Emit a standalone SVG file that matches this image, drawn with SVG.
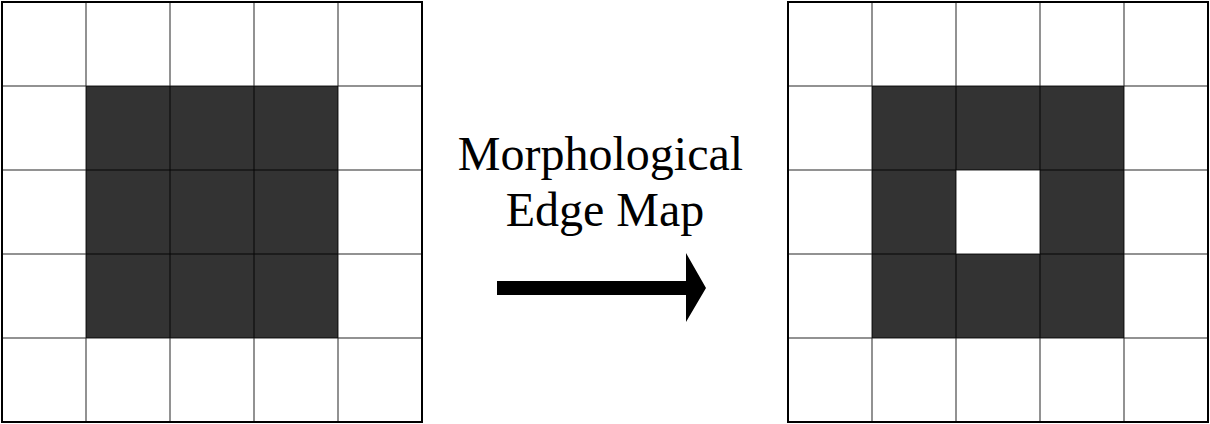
<svg xmlns="http://www.w3.org/2000/svg" width="1210" height="424" viewBox="0 0 1210 424">
<style>
.w{fill:#fff}
.d{fill:#333}
.border{fill:none;stroke:#000;stroke-width:2}
.grid{stroke:#000;stroke-width:1;opacity:0.85}
.lbl{font-family:"Liberation Serif","Times New Roman",serif;font-size:48px;fill:#000;text-anchor:middle}
</style>
<rect width="1210" height="424" fill="#fff"/>
<g id="input-grid">
<rect x="2" y="2" width="420" height="420" class="w"/>
<rect x="86" y="86" width="252" height="252" class="d"/>
<g class="grid">
<line x1="86" y1="2" x2="86" y2="422"/><line x1="170" y1="2" x2="170" y2="422"/><line x1="254" y1="2" x2="254" y2="422"/><line x1="338" y1="2" x2="338" y2="422"/>
<line x1="2" y1="86" x2="422" y2="86"/><line x1="2" y1="170" x2="422" y2="170"/><line x1="2" y1="254" x2="422" y2="254"/><line x1="2" y1="338" x2="422" y2="338"/>
</g>
<rect x="2" y="2" width="420" height="420" class="border"/>
</g>
<g id="output-grid">
<rect x="788" y="2" width="420" height="420" class="w"/>
<path d="M872 86H1124V338H872Z M956 170V254H1040V170Z" class="d" fill-rule="evenodd"/>
<g class="grid">
<line x1="872" y1="2" x2="872" y2="422"/><line x1="956" y1="2" x2="956" y2="422"/><line x1="1040" y1="2" x2="1040" y2="422"/><line x1="1124" y1="2" x2="1124" y2="422"/>
<line x1="788" y1="86" x2="1208" y2="86"/><line x1="788" y1="170" x2="1208" y2="170"/><line x1="788" y1="254" x2="1208" y2="254"/><line x1="788" y1="338" x2="1208" y2="338"/>
</g>
<rect x="788" y="2" width="420" height="420" class="border"/>
</g>
<g id="label">
<text class="lbl" x="600.5" y="170">Morphological</text>
<text class="lbl" x="605" y="226">Edge Map</text>
</g>
<g id="connectors">
<path d="M497 281H686V253L706 288L686 322V295H497Z" fill="#000"/>
</g>
</svg>
